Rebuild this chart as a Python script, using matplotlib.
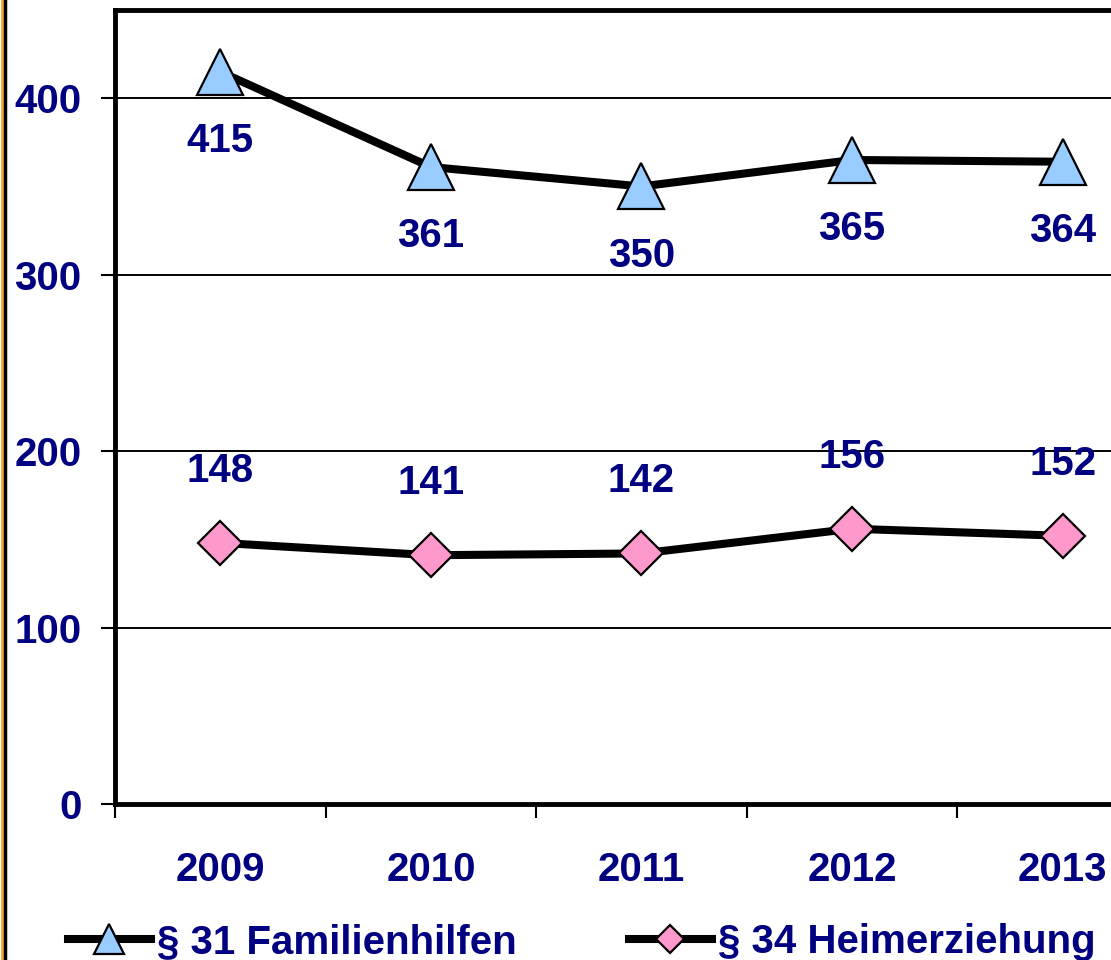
import matplotlib
matplotlib.use("Agg")
import matplotlib.pyplot as plt
import matplotlib.lines as mlines

years = ["2009", "2010", "2011", "2012", "2013"]
familienhilfen = [415, 361, 350, 365, 364]
heimerziehung = [148, 141, 142, 156, 152]
yticks = [0, 100, 200, 300, 400]

navy = "#000080"
plt.rcParams["font.family"] = ["Liberation Sans", "DejaVu Sans"]
plt.rcParams["font.weight"] = "bold"

fig = plt.figure(figsize=(11.11, 9.6), dpi=100)
W, H = 1111, 960
ax = fig.add_axes([115 / W, 1 - 804 / H, (1168 - 115) / W, (804 - 10) / H])

x = list(range(len(years)))
ax.plot(x, familienhilfen, color="black", lw=5.8, marker="^", ms=33,
        mfc="#99ccff", mec="black", mew=1.6, zorder=3)
ax.plot(x, heimerziehung, color="black", lw=5.8, marker="D", ms=22,
        mfc="#ff99cc", mec="black", mew=1.6, zorder=3)

for i, v in enumerate(familienhilfen):
    ax.annotate(str(v), (i, v), xytext=(0, -50), textcoords="offset points",
                ha="center", va="center", fontsize=29, color=navy, fontweight="bold")
for i, v in enumerate(heimerziehung):
    ax.annotate(str(v), (i, v), xytext=(0, 52), textcoords="offset points",
                ha="center", va="center", fontsize=29, color=navy, fontweight="bold")

ax.set_xlim(-0.5, 4.5)
ax.set_ylim(0, 450)
ax.set_yticks(yticks)
ax.set_yticklabels([str(t) for t in yticks])
ax.set_xticks([i - 0.5 for i in range(6)])
ax.set_xticklabels([])
ax.set_xticks(x, minor=True)
ax.set_xticklabels(years, minor=True)
ax.tick_params(axis="x", which="minor", length=0, pad=34, labelsize=29, labelcolor=navy)
ax.tick_params(axis="x", which="major", length=10, width=1.5, direction="out")
ax.tick_params(axis="y", length=10, width=1.5, direction="out", pad=14,
               labelsize=29, labelcolor=navy)
for lab in ax.get_xticklabels(minor=True) + ax.get_yticklabels():
    lab.set_fontweight("bold")

ax.grid(axis="y", color="black", lw=1.4)
ax.set_axisbelow(True)
for s in ax.spines.values():
    s.set_linewidth(3.5)

h1 = mlines.Line2D([], [], color="black", lw=5.8, marker="^", ms=21,
                   mfc="#99ccff", mec="black", mew=1.6)
h2 = mlines.Line2D([], [], color="black", lw=5.8, marker="D", ms=14,
                   mfc="#ff99cc", mec="black", mew=1.6)
leg = fig.legend([h1, h2], ["§ 31 Familienhilfen", "§ 34 Heimerziehung"],
                 loc="center left", bbox_to_anchor=(68 / W, 1 - 942 / H),
                 ncol=2, frameon=False, numpoints=1, handlelength=2.05,
                 handletextpad=0.15, columnspacing=2.8, borderpad=0,
                 borderaxespad=0, prop={"size": 29, "weight": "bold"})
for t in leg.get_texts():
    t.set_color(navy)

# left border strip
fig.add_artist(mlines.Line2D([1.5 / W, 1.5 / W], [0, 1], color="#f0a830", lw=2))
fig.add_artist(mlines.Line2D([4.5 / W, 4.5 / W], [0, 1], color="black", lw=2.5))

fig.savefig("out.png", dpi=100)
